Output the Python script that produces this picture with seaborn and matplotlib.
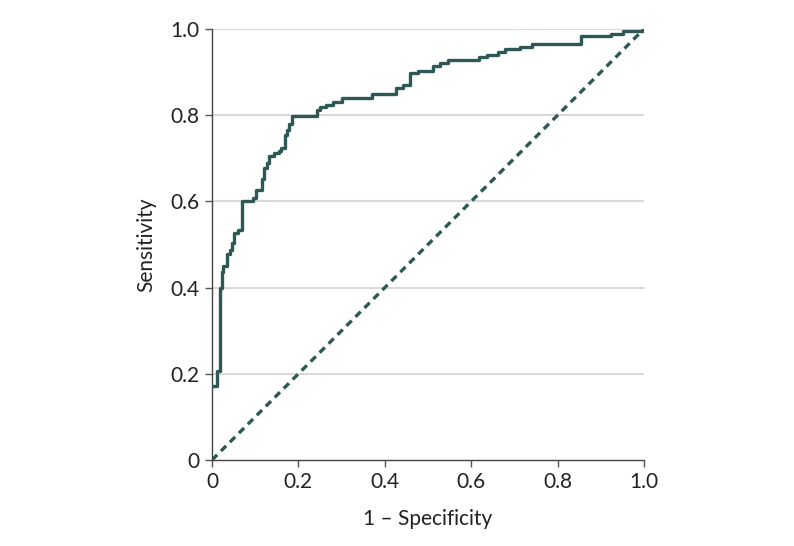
import numpy as np
import pandas as pd
import matplotlib
matplotlib.use('Agg')
import matplotlib.pyplot as plt
import seaborn as sns

# Puntos de la curva ROC (salto en cada x, valor tras el salto)
fpr = [0.0, 0.011, 0.0185, 0.022, 0.026, 0.034, 0.042, 0.047, 0.052, 0.061,
       0.069, 0.096, 0.102, 0.115, 0.12, 0.127, 0.133, 0.144, 0.154, 0.159,
       0.169, 0.174, 0.179, 0.186, 0.244, 0.25, 0.265, 0.281, 0.30, 0.37,
       0.425, 0.443, 0.458, 0.478, 0.511, 0.528, 0.547, 0.617, 0.636, 0.663,
       0.678, 0.713, 0.741, 0.854, 0.924, 0.952, 0.998, 1.0]
tpr = [0.172, 0.207, 0.40, 0.437, 0.449, 0.479, 0.487, 0.504, 0.526, 0.534,
       0.60, 0.607, 0.626, 0.651, 0.677, 0.688, 0.706, 0.712, 0.716, 0.725,
       0.754, 0.766, 0.78, 0.797, 0.812, 0.818, 0.824, 0.831, 0.841, 0.849,
       0.864, 0.870, 0.897, 0.903, 0.914, 0.921, 0.928, 0.934, 0.940, 0.946,
       0.953, 0.959, 0.965, 0.983, 0.989, 0.995, 1.0, 1.0]
diag = [0.0, 1.0]

ticks = [0, 0.2, 0.4, 0.6, 0.8, 1.0]
tick_labels = ['0', '0.2', '0.4', '0.6', '0.8', '1.0']

color = '#2d5855'

sns.set_style('white')
plt.rcParams['font.family'] = ['Lato', 'DejaVu Sans']

df = pd.DataFrame({'fpr': fpr, 'tpr': tpr})

fig = plt.figure(figsize=(7.94, 5.46), dpi=100)
ax = fig.add_axes([212 / 794, 1 - 460 / 546, 432 / 794, 431 / 546])

for t in ticks[1:]:
    ax.axhline(t, color='#d9d9d9', lw=1.5, zorder=0)

sns.lineplot(data=df, x='fpr', y='tpr', estimator=None, sort=False,
             drawstyle='steps-post', color=color, lw=2.4, ax=ax, zorder=3)
sns.lineplot(x=diag, y=diag, color=color, lw=2.4, ax=ax, zorder=2,
             linestyle=(0, (2.2, 1.6)))

ax.set_xlim(0, 1)
ax.set_ylim(0, 1)
ax.set_xticks(ticks)
ax.set_xticklabels(tick_labels)
ax.set_yticks(ticks)
ax.set_yticklabels(tick_labels)
ax.tick_params(axis='both', direction='out', length=5, width=1, color='#555555',
               labelsize=15, labelcolor='#222222', pad=4)
ax.tick_params(left=True, bottom=True)

for side in ['top', 'right']:
    ax.spines[side].set_visible(False)
for side in ['left', 'bottom']:
    ax.spines[side].set_color('#444444')
    ax.spines[side].set_linewidth(1)

ax.set_xlabel('1 – Specificity', fontsize=15, color='#222222', labelpad=12)
ax.set_ylabel('Sensitivity', fontsize=15, color='#222222', labelpad=10)

fig.savefig('out.png', dpi=100)
